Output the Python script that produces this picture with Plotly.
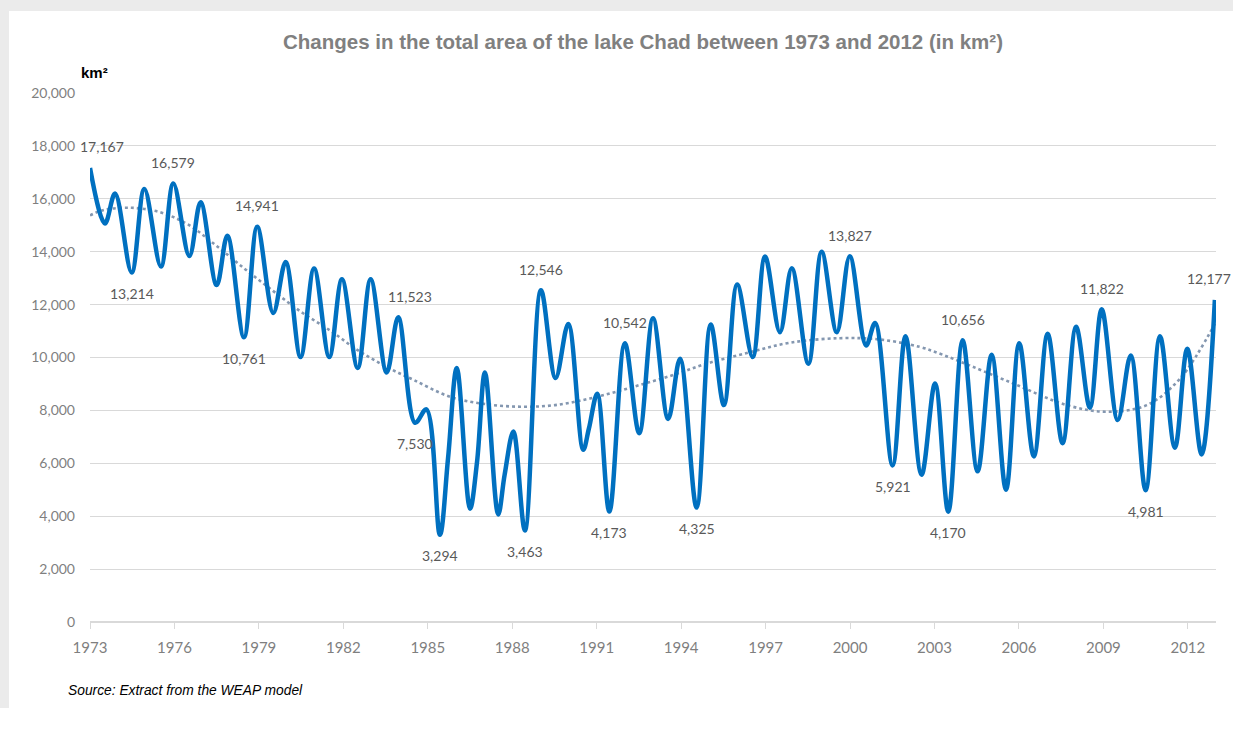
import plotly.graph_objects as go

# ---- Data ----
years = [
    1973.00, 1973.53, 1973.89, 1974.48, 1974.93, 1975.52, 1975.96, 1976.53, 1976.93,
    1977.50, 1977.88, 1978.47, 1978.94, 1979.51, 1979.95, 1980.48, 1980.96, 1981.50,
    1981.95, 1982.51, 1982.97, 1983.54, 1983.95, 1984.55, 1984.95, 1985.43, 1985.72,
    1986.03, 1986.50, 1986.75, 1987.03, 1987.50, 1987.73, 1988.04, 1988.45, 1989.02,
    1989.54, 1989.99, 1990.52, 1990.72, 1991.02, 1991.45, 1992.00, 1992.51, 1993.00,
    1993.54, 1993.96, 1994.55, 1995.05, 1995.52, 1995.99, 1996.54, 1996.98, 1997.51,
    1997.93, 1998.52, 1998.99, 1999.53, 1999.99, 2000.57, 2000.89, 2001.51, 2001.97,
    2002.54, 2003.02, 2003.49, 2004.00, 2004.53, 2005.03, 2005.54, 2006.01, 2006.53,
    2007.02, 2007.55, 2008.03, 2008.52, 2008.94, 2009.51, 2009.97, 2010.50, 2011.01,
    2011.54, 2011.98, 2012.49, 2012.96,
]
area_km2 = [
    17167, 15068, 16196, 13214, 16372, 13440, 16579, 13839, 15869,
    12737, 14607, 10761, 14941, 11685, 13613, 10019, 13364, 10019,
    12956, 9606, 12956, 9430, 11523, 7530, 8038, 3294, 6200,
    9606, 4281, 6060, 9430, 4066, 5570, 7206, 3463, 12546,
    9224, 11271, 6508, 7300, 8629, 4173, 10542, 7137, 11486,
    7674, 9956, 4325, 11250, 8200, 12756, 10019, 13815, 10959,
    13376, 9768, 14000, 10959, 13827, 10456, 11309, 5921, 10808,
    5570, 9016, 4170, 10656, 5696, 10106, 5000, 10538, 6260,
    10900, 6760, 11165, 8102, 11822, 7636, 10080, 4981, 10800,
    6590, 10333, 6335, 12177,
]

# Trend line (dotted)
trend_years = [
    1973.0, 1973.46, 1974.48, 1975.49, 1976.48, 1977.50, 1978.51, 1979.50, 1980.52,
    1981.53, 1982.52, 1983.54, 1984.50, 1985.79, 1987.03, 1988.28, 1989.52, 1990.88,
    1992.30, 1993.72, 1994.91, 1996.45, 1997.87, 1999.64, 2001.06, 2002.48, 2003.20,
    2003.90, 2005.80, 2007.70, 2009.12, 2010.54, 2011.72, 2013.0,
]
trend_km2 = [
    15370, 15570, 15660, 15490, 15030, 14215, 13340, 12520, 11710,
    11020, 10270, 9640, 9150, 8515, 8240, 8140, 8200, 8480,
    8890, 9340, 9770, 10200, 10560, 10730, 10680, 10400, 10140,
    9850, 9016, 8200, 7950, 8200, 9200, 11350,
]

# Labelled points
label_years = [1973.00, 1974.48, 1975.96, 1978.47, 1978.94, 1983.95, 1984.55, 1985.43,
               1988.45, 1989.02, 1991.45, 1992.00, 1994.55, 1999.99, 2001.51, 2003.49,
               2004.00, 2008.94, 2010.50, 2012.96]
label_values = [17167, 13214, 16579, 10761, 14941, 11523, 7530, 3294,
                3463, 12546, 4173, 10542, 4325, 13827, 5921, 4170,
                10656, 11822, 4981, 12177]
label_above = [True, False, True, False, True, True, False, False,
               False, True, False, True, False, True, False, False,
               True, True, False, True]

y_ticks = [0, 2000, 4000, 6000, 8000, 10000, 12000, 14000, 16000, 18000, 20000]
x_ticks = [1973, 1976, 1979, 1982, 1985, 1988, 1991, 1994, 1997, 2000, 2003, 2006, 2009, 2012]

W, H = 1233, 731
L, R, T, B = 90, 17, 93, 109
pw, ph = W - L - R, H - T - B


def px_x(px):
    return (px - L) / pw


def px_y(py):
    return (H - B - py) / ph


fig = go.Figure()

fig.add_trace(go.Scatter(
    x=trend_years, y=trend_km2, mode="lines",
    line=dict(color="#8497B0", width=2.6, dash="dot", shape="spline", smoothing=1.0),
    hoverinfo="skip", showlegend=False,
))

fig.add_trace(go.Scatter(
    x=years, y=area_km2, mode="lines",
    line=dict(color="#0070C0", width=4.5, shape="spline", smoothing=1.0),
    showlegend=False,
))

annotations = []
for yr, v, above in zip(label_years, label_values, label_above):
    xs = 0
    if yr == label_years[0]:
        xs = 12
    if v == 11523:
        xs = 12
    if yr == label_years[-1]:
        xs = -6
    annotations.append(dict(
        x=yr, y=v, xref="x", yref="y", text=f"{v:,}", showarrow=False,
        yshift=21 if above else -21, xshift=xs,
        font=dict(family="Lato", size=14, color="#595959"),
    ))

annotations.append(dict(
    x=px_x(643), y=px_y(42), xref="paper", yref="paper",
    text="<b>Changes in the total area of the lake Chad between 1973 and 2012 (in km²)</b>",
    showarrow=False, xanchor="center", yanchor="middle",
    font=dict(family="Liberation Sans", size=20.5, color="#808080"),
))
annotations.append(dict(
    x=px_x(79), y=px_y(72), xref="paper", yref="paper",
    text="<b>km²</b>", showarrow=False, xanchor="left", yanchor="middle",
    font=dict(family="Liberation Sans", size=15, color="#000000"),
))
annotations.append(dict(
    x=px_x(66), y=px_y(690), xref="paper", yref="paper",
    text="<i>Source: Extract from the WEAP model</i>", showarrow=False,
    xanchor="left", yanchor="middle",
    font=dict(family="Liberation Sans", size=13.8, color="#000000"),
))

shapes = [
    dict(type="rect", xref="paper", yref="paper", layer="below",
         x0=px_x(0), x1=px_x(W), y0=px_y(11), y1=px_y(0),
         fillcolor="#EBEBEB", line=dict(width=0)),
    dict(type="rect", xref="paper", yref="paper", layer="below",
         x0=px_x(0), x1=px_x(9), y0=px_y(708), y1=px_y(0),
         fillcolor="#EBEBEB", line=dict(width=0)),
]

fig.update_layout(
    width=W, height=H,
    margin=dict(l=L, r=R, t=T, b=B, pad=0),
    paper_bgcolor="#FFFFFF", plot_bgcolor="#FFFFFF",
    annotations=annotations, shapes=shapes,
    xaxis=dict(
        range=[1973, 2013], tickvals=x_ticks, ticktext=[str(t) for t in x_ticks],
        showgrid=False, zeroline=False, showline=False,
        ticks="outside", ticklen=6, tickcolor="#D9D9D9", tickwidth=1,
        ticklabelstandoff=6,
        tickfont=dict(family="Lato", size=15, color="#7F7F7F"),
    ),
    yaxis=dict(
        range=[0, 20000], tickvals=y_ticks, tickformat=",d",
        showgrid=True, gridcolor="#D9D9D9", gridwidth=1,
        zeroline=True, zerolinecolor="#D9D9D9", zerolinewidth=1.5,
        showline=False, ticks="", ticklabelstandoff=14,
        tickfont=dict(family="Lato", size=14, color="#7F7F7F"),
    ),
)

fig.write_html(
    "out.html",
    config={"displayModeBar": False},
    post_script="document.body.style.margin='0';document.body.style.overflow='hidden';",
)
